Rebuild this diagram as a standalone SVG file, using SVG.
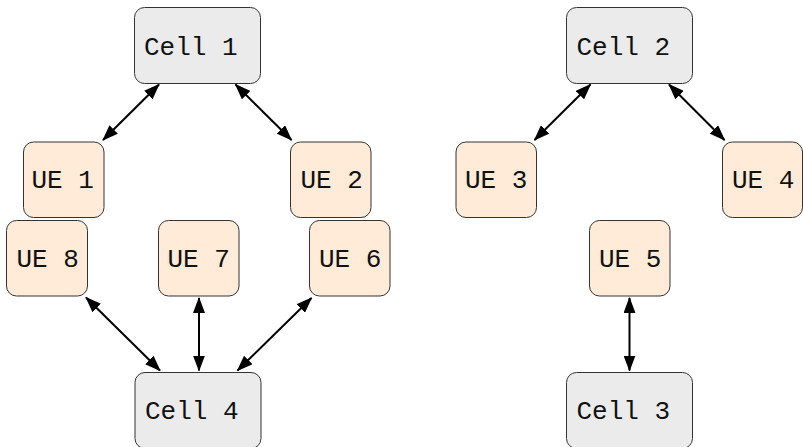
<svg xmlns="http://www.w3.org/2000/svg" width="803" height="447" viewBox="0 0 803 447">
  <style>
    .box { stroke: #333; stroke-width: 1; }
    .cell { fill: #ebebeb; }
    .ue { fill: #ffebd7; }
    .lbl { font-family: "Liberation Mono", "DejaVu Sans Mono", monospace; font-size: 26px; fill: #111; }
    .link { stroke: #000; stroke-width: 2; fill: none; marker-start: url(#head); marker-end: url(#head); }
  </style>
  <defs>
    <marker id="head" viewBox="0 0 16 12" refX="15" refY="6" markerWidth="16" markerHeight="12" markerUnits="userSpaceOnUse" orient="auto-start-reverse">
      <path d="M0,0 L16,6 L0,12 Z" fill="#000"/>
    </marker>
  </defs>

  <rect width="803" height="447" fill="#fff"/>

  <!-- connectors -->
  <g id="connectors">
    <line class="link" x1="159" y1="84.5" x2="103" y2="140"/>
    <line class="link" x1="235.5" y1="84.5" x2="291.5" y2="140"/>
    <line class="link" x1="590.5" y1="84.5" x2="534.5" y2="140"/>
    <line class="link" x1="669" y1="84.5" x2="724.5" y2="140"/>
    <line class="link" x1="86" y1="297.5" x2="160" y2="370.5"/>
    <line class="link" x1="199" y1="298" x2="199" y2="370.5"/>
    <line class="link" x1="311.5" y1="298" x2="237.5" y2="370.5"/>
    <line class="link" x1="629.5" y1="298" x2="629.5" y2="370.5"/>
  </g>

  <!-- base stations -->
  <g id="cell1">
    <rect class="box cell" x="134.5" y="7.5" width="126" height="76" rx="10"/>
    <text class="lbl" x="144" y="55">Cell 1</text>
  </g>
  <g id="cell2">
    <rect class="box cell" x="566.5" y="7.5" width="126" height="76" rx="10"/>
    <text class="lbl" x="576.5" y="55">Cell 2</text>
  </g>
  <g id="cell3">
    <rect class="box cell" x="566.5" y="372.5" width="126" height="76" rx="10"/>
    <text class="lbl" x="576.5" y="419">Cell 3</text>
  </g>
  <g id="cell4">
    <rect class="box cell" x="135" y="372.5" width="126" height="76" rx="10"/>
    <text class="lbl" x="145" y="418.5">Cell 4</text>
  </g>

  <!-- user equipment -->
  <g id="ue1">
    <rect class="box ue" x="23.5" y="142" width="80.5" height="75.5" rx="10"/>
    <text class="lbl" x="31.5" y="188">UE 1</text>
  </g>
  <g id="ue2">
    <rect class="box ue" x="290.5" y="142" width="80.5" height="75.5" rx="10"/>
    <text class="lbl" x="300.5" y="188">UE 2</text>
  </g>
  <g id="ue3">
    <rect class="box ue" x="456" y="142" width="80.5" height="75.5" rx="10"/>
    <text class="lbl" x="465" y="188">UE 3</text>
  </g>
  <g id="ue4">
    <rect class="box ue" x="722.5" y="142" width="80" height="75.5" rx="10"/>
    <text class="lbl" x="732" y="188">UE 4</text>
  </g>
  <g id="ue5">
    <rect class="box ue" x="589.5" y="220.5" width="80.5" height="75.5" rx="10"/>
    <text class="lbl" x="599" y="267">UE 5</text>
  </g>
  <g id="ue6">
    <rect class="box ue" x="309.5" y="220.5" width="80.5" height="75.5" rx="10"/>
    <text class="lbl" x="319" y="267">UE 6</text>
  </g>
  <g id="ue7">
    <rect class="box ue" x="158.5" y="220.5" width="80.5" height="75.5" rx="10"/>
    <text class="lbl" x="167.5" y="267">UE 7</text>
  </g>
  <g id="ue8">
    <rect class="box ue" x="6.5" y="220.5" width="81" height="75.5" rx="10"/>
    <text class="lbl" x="16.5" y="267">UE 8</text>
  </g>
</svg>
